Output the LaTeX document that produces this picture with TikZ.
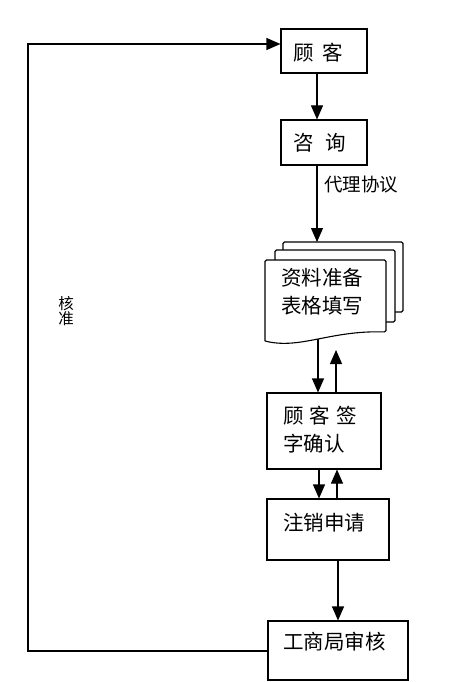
\documentclass[tikz,border=0pt]{standalone}
\usepackage{fontspec}
\setmainfont{Noto Sans CJK SC}
\usetikzlibrary{arrows.meta}
\begin{document}
\begin{tikzpicture}[x=1pt,y=-1pt,
  box/.style={draw, line width=1.1pt, rectangle, inner sep=0pt},
  arr/.style={-{Triangle[length=14pt,width=12pt]}, line width=1.1pt},
  sheet/.style={draw, fill=white, line width=1.1pt, rounded corners=1.5pt},
  txt/.style={font=\fontsize{20.5pt}{28pt}\selectfont, inner sep=0pt, align=left},
  small/.style={font=\fontsize{18.5pt}{20pt}\selectfont, inner sep=0pt},
  tiny/.style={font=\fontsize{15.5pt}{14pt}\selectfont, inner sep=0pt, align=center}]
\useasboundingbox (0,0) rectangle (463,682);
\fill[white] (0,0) rectangle (463,682);

% boxes
\node[box, minimum width=86pt, minimum height=44pt] (gk) at (324,51) {};
\node[txt] at (318,53) {顾\hspace{9pt}客};
\node[box, minimum width=86pt, minimum height=45pt] (zx) at (324,142.5) {};
\node[txt] at (320,143) {咨\hspace{12pt}询};

% document stack
\draw[sheet] (283,312) -- (283,242) -- (403,242) -- (403,312) -- cycle;
\draw[sheet] (275,322) -- (275,250) -- (395,250) -- (395,322) -- cycle;
\draw[sheet] (265,341) -- (265,260) -- (386,260) -- (386,332)
   .. controls (330,330) and (300,350) .. (265,341);
\node[txt] (doc) at (322,292) {资料准备\\表格填写};
\coordinate (stacktop) at (317,242);
\coordinate (docbot) at (318,339);
\coordinate (docup) at (336,350);

\node[box, minimum width=114pt, minimum height=76pt] (qz) at (324,431) {};
\node[txt, anchor=west] at (283,430) {顾\hspace{6pt}客\hspace{6pt}签\\字确认};

\node[box, minimum width=122pt, minimum height=61pt] (zs) at (328,529.5) {};
\node[txt, anchor=west] at (283,523) {注销申请};

\node[box, minimum width=140pt, minimum height=59pt] (gs) at (338,650.5) {};
\node[txt, anchor=west] at (283,642) {工商局审核};

% connectors
\draw[arr] (gk.south -| 317,0) -- (zx.north -| 317,0);
\draw[arr] (zx.south -| 317,0) -- (stacktop);
\node[small] (dl) at (361,185) {代理协议};
\draw[arr] (docbot) -- (qz.north -| 318,0);
\draw[arr] (qz.north -| 336,0) -- (docup);
\draw[arr] (qz.south -| 319,0) -- (zs.north -| 319,0);
\draw[arr] (zs.north -| 337,0) -- (qz.south -| 337,0);
\draw[arr] (zs.south -| 338,0) -- (gs.north -| 338,0);

\coordinate (c1) at (28,651);
\coordinate (c2) at (28,44);
\draw[arr] (gs.west |- 0,651) -- (c1) -- (c2) -- (gk.west |- 0,44);
\node[tiny] (hz) at (66,311) {核\\准};
\end{tikzpicture}
\end{document}
